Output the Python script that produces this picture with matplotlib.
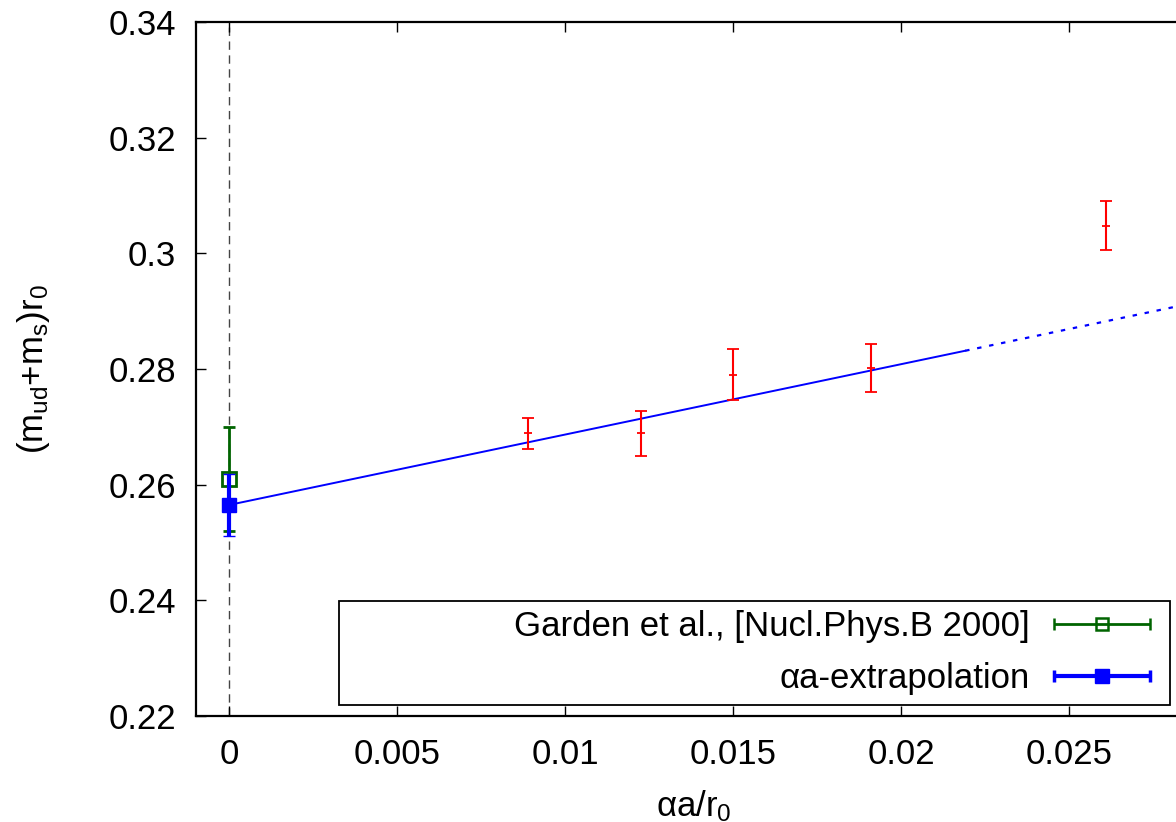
#(m_ud+m_s)r0 vs αa/r0, linear extrapolation
import matplotlib
matplotlib.use('Agg')
import matplotlib.pyplot as plt
import numpy as np
from matplotlib.container import ErrorbarContainer
from matplotlib.legend_handler import HandlerErrorbar
from matplotlib.patches import Rectangle

plt.rcParams['font.family'] = ['Liberation Sans', 'DejaVu Sans']
plt.rcParams['mathtext.fontset'] = 'custom'
plt.rcParams['mathtext.rm'] = 'Liberation Sans'
plt.rcParams['mathtext.it'] = 'Liberation Sans'

#data
x_data = [0.0089, 0.01225, 0.0150, 0.0191, 0.0261]
y_data = [0.2689, 0.2689, 0.2790, 0.2802, 0.3048]
y_err = [0.0027, 0.0039, 0.0044, 0.0042, 0.0043]

garden_x = [0.0]
garden_y = [0.2610]
garden_err = [0.0090]

extrap_x = [0.0]
extrap_y = [0.2565]
extrap_err = [0.0053]

fit_intercept = 0.2565
fit_slope = 1.217
fit_end = 0.0219

x_ticks = [0, 0.005, 0.01, 0.015, 0.02, 0.025]
x_ticklabels = ['0', '0.005', '0.01', '0.015', '0.02', '0.025']
y_ticks = [0.22, 0.24, 0.26, 0.28, 0.30, 0.32, 0.34]
y_ticklabels = ['0.22', '0.24', '0.26', '0.28', '0.3', '0.32', '0.34']

fs = 25

fig = plt.figure(figsize=(11.76, 8.22), dpi=100)
#axes right edge goes past the figure, like the cropped original
ax = fig.add_axes([195.7/1176, 106/822, 1041.6/1176, 694/822])
ax.set_xlim(-0.001, 0.03)
ax.set_ylim(0.22, 0.34)

#vertical dashed line at zero
ax.axvline(0, color='#444444', lw=1, ls=(0, (6, 4)), zorder=1)

#fit line: solid in fit range, dotted beyond
xf = np.array([0, fit_end])
ax.plot(xf, fit_intercept + fit_slope*xf, color='blue', lw=1.4, zorder=2)
xd = np.array([fit_end, 0.03])
ax.plot(xd, fit_intercept + fit_slope*xd, color='blue', lw=1.6, ls=(0, (2, 3.5)), zorder=2)

#red points
ax.errorbar(x_data, y_data, yerr=y_err, fmt='+', color='red', ms=6, mew=1.3,
            elinewidth=1.5, capsize=4, capthick=1.5, zorder=3)

#green and blue points
ax.errorbar(garden_x, garden_y, yerr=garden_err, fmt='s', color='#006400', mfc='none',
            ms=9.5, mew=2, elinewidth=2, capsize=4, capthick=2, zorder=4)
ax.errorbar(extrap_x, extrap_y, yerr=extrap_err, fmt='s', color='blue',
            ms=10, mew=1, elinewidth=3, capsize=4, capthick=2.5, zorder=5)

#legend proxies (horizontal bars like gnuplot keys)
h1 = ax.errorbar([np.nan], [np.nan], xerr=[0], fmt='s', color='#006400', mfc='none',
                 ms=9, mew=1.8, elinewidth=2, capsize=4, capthick=2)
h2 = ax.errorbar([np.nan], [np.nan], xerr=[0], fmt='s', color='blue', ms=10,
                 elinewidth=3, capsize=4, capthick=2.5)
leg = ax.legend([h1, h2], ['Garden et al., [Nucl.Phys.B 2000]', 'αa-extrapolation'],
                loc='center right', bbox_to_anchor=(0.9354, 0.0915), markerfirst=False,
                fontsize=fs, handlelength=2.77, handletextpad=0.69, labelspacing=0.55,
                borderpad=0.58, borderaxespad=0, frameon=False,
                handler_map={ErrorbarContainer: HandlerErrorbar(xerr_size=1.38)})
#key box (wider than the text, like gnuplot)
ax.add_patch(Rectangle((0.1376, 0.01585), 0.9354-0.1376, 0.1657-0.01585,
                       transform=ax.transAxes, fill=True, fc='white', ec='black',
                       lw=1.3, zorder=6))
leg.set_zorder(7)

#ticks and axes
ax.set_xticks(x_ticks)
ax.set_xticklabels(x_ticklabels)
ax.set_yticks(y_ticks)
ax.set_yticklabels(y_ticklabels)
ax.tick_params(direction='in', length=7.5, width=1, labelsize=fs, top=True, right=True)
ax.tick_params(axis='x', pad=15.5)
ax.tick_params(axis='y', pad=14)
for s in ax.spines.values():
    s.set_linewidth(1.6)

ax.set_xlabel('αa/r$_0$', fontsize=fs)
ax.xaxis.set_label_coords(0.478, -0.104)
ax.set_ylabel('(m$_{\\rm ud}$+m$_{\\rm s}$)r$_0$', fontsize=fs)
ax.yaxis.set_label_coords(-0.138, 0.5)

fig.savefig('out.png', dpi=100)
